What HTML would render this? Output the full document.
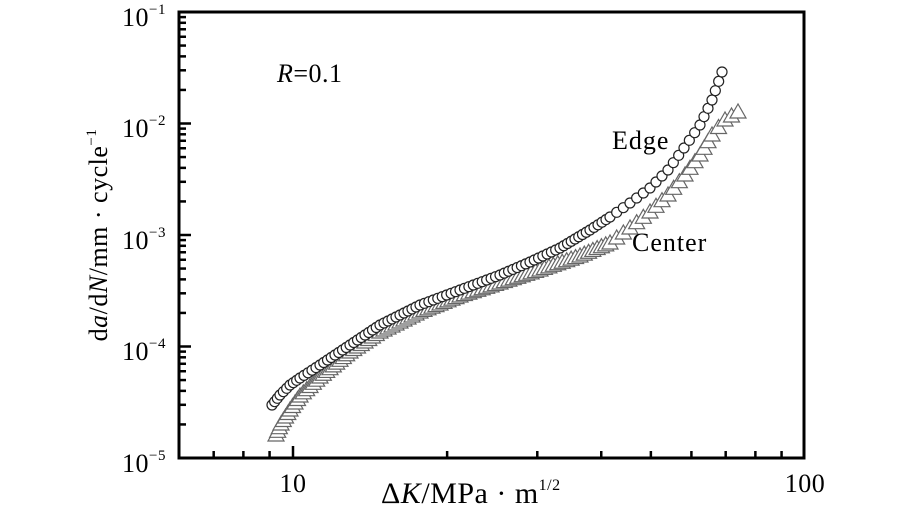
<!DOCTYPE html><html><head><style>body{margin:0;background:#fff}svg{display:block}text{font-family:"Liberation Serif",serif;fill:#000}</style></head><body>
<svg id="s" width="908" height="508" xmlns="http://www.w3.org/2000/svg">
<g id="d"></g>
<rect x="179" y="12" width="625" height="446" fill="none" stroke="#000" stroke-width="3"/>
<g id="t" stroke="#000" stroke-width="2.5"></g>
<g font-size="26" letter-spacing="0.5">
<text x="122" y="26">10<tspan font-size="15" dy="-12">−1</tspan></text>
<text x="122" y="137">10<tspan font-size="15" dy="-12">−2</tspan></text>
<text x="122" y="249">10<tspan font-size="15" dy="-12">−3</tspan></text>
<text x="122" y="360">10<tspan font-size="15" dy="-12">−4</tspan></text>
<text x="122" y="472">10<tspan font-size="15" dy="-12">−5</tspan></text>
<text x="293" y="492" text-anchor="middle">10</text>
<text x="805" y="492" text-anchor="middle">100</text>
<text x="277" y="82"><tspan font-style="italic">R</tspan>=0.1</text>
<text x="612" y="149" letter-spacing="1">Edge</text>
<text x="632" y="251" letter-spacing="1">Center</text>
</g>
<text font-size="26" letter-spacing="0.5" transform="translate(107,235) rotate(-90)" text-anchor="middle">d<tspan font-style="italic">a</tspan>/d<tspan font-style="italic">N</tspan>/mm · cycle<tspan font-size="15" dy="-11">−1</tspan></text>
<text x="381" y="503" font-size="30" letter-spacing="0.5">Δ<tspan font-style="italic">K</tspan>/MPa · m<tspan font-size="16" dy="-13">1/2</tspan></text>
</svg>
<script>
var ns="http://www.w3.org/2000/svg",t=document.getElementById('t'),d=document.getElementById('d');
function L(x1,y1,x2,y2){var l=document.createElementNS(ns,'line');l.setAttribute('x1',x1);l.setAttribute('y1',y1);l.setAttribute('x2',x2);l.setAttribute('y2',y2);t.appendChild(l);}
for(var k=0;k<4;k++){var y0=12+k*111.5;for(var m=1;m<10;m++){var y=y0+111.5*(1-Math.log10(m));if(m==1){L(179,y,191,y);}else L(179,y,186,y);}}
L(179,458,191,458);
[6,7,8,9,10,20,30,40,50,60,70,80,90].forEach(function(v){var x=293+512*Math.log10(v/10);if(x>180&&x<803)L(x,458,x,(v==10)?446:451);});
function pts(a){var o=[];for(var i=0;i<a.length-1;i++){var p=a[i],q=a[i+1],step=p[0]>600?9:4.5,dd=Math.hypot(q[0]-p[0],q[1]-p[1]),n=Math.max(1,Math.round(dd/step));for(var j=0;j<n;j++)o.push([p[0]+(q[0]-p[0])*j/n,p[1]+(q[1]-p[1])*j/n]);}o.push(a[a.length-1]);return o;}
var E=[[272,405],[280,395],[290,385],[300,378],[320,365],[350,345],[380,325],[420,305],[460,290],[500,275],[530,262],[560,248],[590,230],[610,217],[630,203],[650,188],[668,170],[684,148],[700,125],[712,100],[722,72]];
var C=[[276,435],[281,424],[290,410],[300,396],[320,377],[350,352],[380,332],[420,312],[460,296],[500,283],[540,270],[580,256],[610,243],[630,228],[650,212],[668,195],[685,175],[700,155],[712,135],[725,120],[738,112]];
pts(C).forEach(function(p){var g=document.createElementNS(ns,'polygon');g.setAttribute('points',(p[0])+','+(p[1]-8)+' '+(p[0]-8)+','+(p[1]+6)+' '+(p[0]+8)+','+(p[1]+6));g.setAttribute('fill','#fff');g.setAttribute('stroke','#666');g.setAttribute('stroke-width','1.2');d.appendChild(g);});
pts(E).forEach(function(p){var c=document.createElementNS(ns,'circle');c.setAttribute('cx',p[0]);c.setAttribute('cy',p[1]);c.setAttribute('r',5);c.setAttribute('fill','#fff');c.setAttribute('stroke','#222');c.setAttribute('stroke-width','1.2');d.appendChild(c);});
</script>
</body></html>
